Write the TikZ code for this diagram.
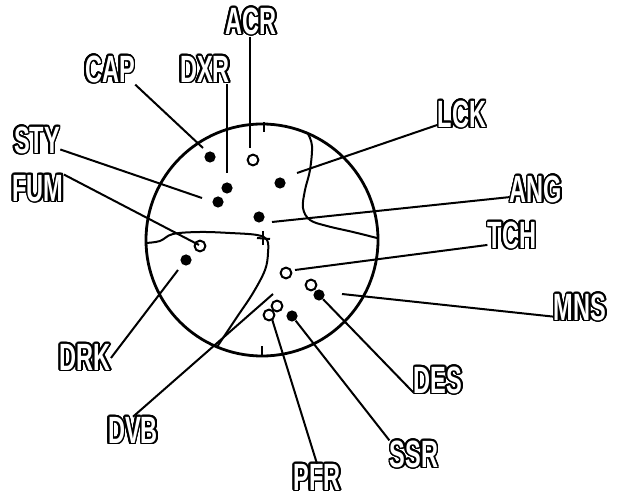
\documentclass[tikz,border=0pt]{standalone}
\usepackage{fontspec}
\usepackage{contour}
\newfontfamily\lblfont[FakeStretch=0.62]{Liberation Sans}
\contourlength{0.8pt}
\contournumber{24}
\usetikzlibrary{positioning}

\begin{document}
\begin{tikzpicture}[
    x=0.5pt, y=-0.5pt,
    lbl/.style={inner sep=0pt, text=white, font=\lblfont\bfseries\fontsize{19}{19}\selectfont},
    sdot/.style={circle, fill, inner sep=0pt, minimum size=5.6pt},
    odot/.style={circle, draw, line width=1pt, inner sep=0pt, minimum size=5.4pt},
    lead/.style={line width=1pt},
    edge/.style={line width=1pt, line join=round}
]
\useasboundingbox (0,0) rectangle (619,501);

\draw[line width=1.4pt] (262,240) circle[radius=116];
\draw[edge] (264,122) -- (264,132);
\draw[edge] (262,346) -- (262,355);
\draw[edge] plot[smooth, tension=0.6] coordinates {(308,134) (312,146) (310,170) (305,190) (303,208) (310,220) (327,226) (353,232) (377,238)};
\draw[edge] plot[smooth, tension=0.6] coordinates {(146,243) (160,241) (173,234) (200,232) (230,233) (257,235) (267,240) (268,253) (265,270) (253,293) (237,317) (217,347)};
\draw[edge] (263,231) -- (263,245);
\draw[edge] (257,238) -- (270,239);

\node[sdot] (cap) at (210,157) {};
\node[odot] (acr) at (253,160) {};
\node[sdot] (dxr) at (227,188) {};
\node[sdot] (sty) at (218,202) {};
\node[sdot] (lck) at (280,183) {};
\node[sdot] (ang) at (259,217) {};
\node[odot] (fum) at (200,246) {};
\node[sdot] (drk) at (186,260) {};
\node[odot] (tch) at (286,273) {};
\node[odot] (desa) at (311,285) {};
\node[sdot] (desb) at (319,295) {};
\node[odot] (pfra) at (277,306) {};
\node[odot] (pfrb) at (269,315) {};
\node[sdot] (ssr) at (292,316) {};

\coordinate (tacr) at (250,148);
\coordinate (tcap) at (203,148);
\coordinate (tdxr) at (227,173);
\coordinate (tsty) at (202,198);
\coordinate (tfum) at (199,245);
\coordinate (tdrk) at (178,270);
\coordinate (tdvb) at (273,294);
\coordinate (tpfr) at (272,319);
\coordinate (tmns) at (342,294);
\coordinate (ttch) at (295,270);
\coordinate (tang) at (272,222);
\coordinate (tlck) at (297,173);

\node[lbl] (lacr) at (251,22) {\contour{black}{ACR}};
\node[lbl] (lcap) at (110,70) {\contour{black}{CAP}};
\node[lbl] (ldxr) at (205,70) {\contour{black}{DXR}};
\node[lbl] (lsty) at (37,141) {\contour{black}{STY}};
\node[lbl] (lfum) at (38,189) {\contour{black}{FUM}};
\node[lbl] (ldrk) at (85,358) {\contour{black}{DRK}};
\node[lbl] (ldvb) at (133,431) {\contour{black}{DVB}};
\node[lbl] (lpfr) at (317,478) {\contour{black}{PFR}};
\node[lbl] (lssr) at (414,455) {\contour{black}{SSR}};
\node[lbl] (ldes) at (438,381) {\contour{black}{DES}};
\node[lbl] (lmns) at (580,308) {\contour{black}{MNS}};
\node[lbl] (ltch) at (512,236) {\contour{black}{TCH}};
\node[lbl] (lang) at (536,190) {\contour{black}{ANG}};
\node[lbl] (llck) at (462,115) {\contour{black}{LCK}};

\draw[lead] (tacr |- lacr.south) -- (tacr);
\draw[lead] (lcap.south east) -- (tcap);
\draw[lead] (tdxr |- ldxr.south) -- (tdxr);
\draw[lead] (lsty.-20) -- (tsty);
\draw[lead] (lfum.north east) -- (tfum);
\draw[lead] (ldrk.east) -- (tdrk);
\draw[lead] (ldvb.north) -- (tdvb);
\draw[lead] (lpfr.north) -- (tpfr);
\draw[lead] (lssr.north west) -- (ssr);
\draw[lead] (ldes.205) -- (desb);
\draw[lead] (lmns.198) -- (tmns);
\draw[lead] (ltch.200) -- (ttch);
\draw[lead] (lang.195) -- (tang);
\draw[lead] (llck.202) -- (tlck);
\end{tikzpicture}
\end{document}
